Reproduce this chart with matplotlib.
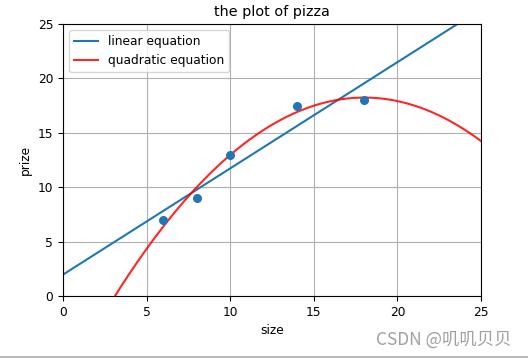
import numpy as np
import matplotlib
matplotlib.use("Agg")
import matplotlib.pyplot as plt

plt.rcParams['font.family'] = ['DejaVu Sans']

size = [6, 8, 10, 14, 18]
prize = [7, 9, 13, 17.5, 18]

xx = np.linspace(0, 26, 200)
lin_coef = np.polyfit(size, prize, 1)
quad_coef = np.polyfit(size, prize, 2)

fig = plt.figure(figsize=(5.28, 3.58), dpi=100)
ax = fig.add_axes([63/528, 1-296/358, (481-63)/528, (296-24)/358])
fs = 8.8
ax.plot(xx, np.polyval(lin_coef, xx), color='#1f77b4', lw=1.5, label='linear equation')
ax.plot(xx, np.polyval(quad_coef, xx), color='red', alpha=0.85, lw=1.5, label='quadratic equation')
ax.scatter(size, prize, color='#1f77b4', s=30, zorder=3)
ax.set_xlim(0, 25)
ax.set_ylim(0, 25)
ax.set_xticks([0, 5, 10, 15, 20, 25])
ax.set_yticks([0, 5, 10, 15, 20, 25])
ax.grid(True, color='#b0b0b0', lw=0.8)
ax.tick_params(labelsize=fs)
ax.set_title('the plot of pizza', fontsize=10.4)
ax.set_xlabel('size', fontsize=fs)
ax.set_ylabel('prize', fontsize=fs)
ax.legend(loc='upper left', fontsize=fs)

fig.text(512/528, 1-340/358, 'CSDN @叽叽贝贝', ha='right', va='center', fontsize=12.5,
         color='#a0a0a0', family=['Noto Sans CJK SC', 'DejaVu Sans'])
fig.add_artist(plt.Line2D([0, 1], [0.003, 0.003], color='#aaaaaa', lw=1.2, transform=fig.transFigure))

fig.savefig('out.png', dpi=100)
